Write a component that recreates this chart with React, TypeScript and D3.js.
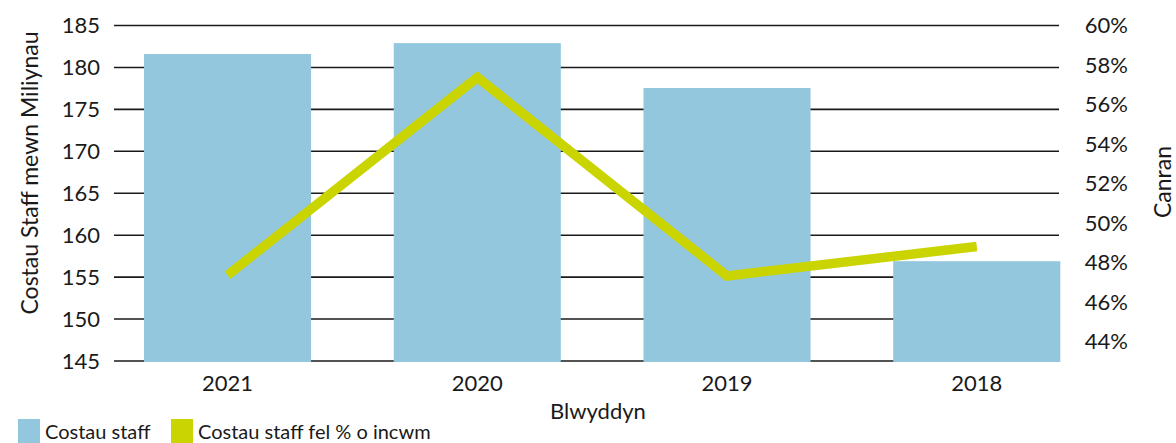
import { useEffect, useRef } from "react";
import * as d3 from "d3";

const years = ["2021", "2020", "2019", "2018"];
const staffCosts = [181.6, 182.9, 177.55, 156.9];
const staffPct = [47.35, 57.37, 47.31, 48.8];
const leftTicks = [145, 150, 155, 160, 165, 170, 175, 180, 185];
const rightTicks = [44, 46, 48, 50, 52, 54, 56, 58, 60];

const BLUE = "#93C7DD";
const GREEN = "#CAD400";
const FONT = "Lato, 'Open Sans', sans-serif";

export default function App() {
    const svgRef = useRef<SVGSVGElement>(null);
    const width = 1176;
    const height = 443;

    useEffect(() => {
        const svg = d3.select(svgRef.current);
        svg.selectAll("*").remove();

        const top = 25.5;
        const bottom = 361;
        const gridLeft = 114;
        const gridRight = 1059;

        const yLeft = d3.scaleLinear().domain([145, 185]).range([bottom, top]);
        const yRight = d3.scaleLinear().domain([43, 60]).range([bottom, top]);

        const x = d3
            .scaleBand()
            .domain(years)
            .range([144, 1060.3])
            .paddingInner(0.331)
            .paddingOuter(0);

        // gridlines
        svg.append("g")
            .selectAll("line")
            .data(leftTicks)
            .enter()
            .append("line")
            .attr("x1", gridLeft)
            .attr("x2", gridRight)
            .attr("y1", (d) => yLeft(d))
            .attr("y2", (d) => yLeft(d))
            .attr("stroke", "#1a1a1a")
            .attr("stroke-width", 1.6);

        // bars
        svg.append("g")
            .selectAll("rect")
            .data(years)
            .enter()
            .append("rect")
            .attr("x", (d) => x(d)!)
            .attr("y", (d, i) => yLeft(staffCosts[i]))
            .attr("width", x.bandwidth())
            .attr("height", (d, i) => bottom + 1 - yLeft(staffCosts[i]))
            .attr("fill", BLUE);

        // line
        const line = d3
            .line<number>()
            .x((d, i) => x(years[i])! + x.bandwidth() / 2)
            .y((d) => yRight(d));

        svg.append("path")
            .datum(staffPct)
            .attr("d", line)
            .attr("fill", "none")
            .attr("stroke", GREEN)
            .attr("stroke-width", 9.5)
            .attr("stroke-linejoin", "miter");

        // left tick labels
        svg.append("g")
            .selectAll("text")
            .data(leftTicks)
            .enter()
            .append("text")
            .attr("x", 100)
            .attr("y", (d) => yLeft(d))
            .attr("dy", "0.36em")
            .attr("text-anchor", "end")
            .style("font-family", FONT)
            .style("font-size", "22px")
            .attr("fill", "#1a1a1a")
            .text((d) => d);

        // right tick labels
        svg.append("g")
            .selectAll("text")
            .data(rightTicks)
            .enter()
            .append("text")
            .attr("x", 1128)
            .attr("y", (d) => yRight(d))
            .attr("dy", "0.36em")
            .attr("text-anchor", "end")
            .style("font-family", FONT)
            .style("font-size", "22px")
            .attr("fill", "#1a1a1a")
            .text((d) => d + "%");

        // x tick labels
        svg.append("g")
            .selectAll("text")
            .data(years)
            .enter()
            .append("text")
            .attr("x", (d) => x(d)! + x.bandwidth() / 2)
            .attr("y", 391)
            .attr("text-anchor", "middle")
            .style("font-family", FONT)
            .style("font-size", "22px")
            .attr("fill", "#1a1a1a")
            .text((d) => d);

        // axis titles
        svg.append("text")
            .attr("transform", `translate(38,173) rotate(-90)`)
            .attr("text-anchor", "middle")
            .style("font-family", FONT)
            .style("font-size", "23px")
            .attr("fill", "#1a1a1a")
            .text("Costau Staff mewn Miliynau");

        svg.append("text")
            .attr("transform", `translate(1171,182) rotate(-90)`)
            .attr("text-anchor", "middle")
            .style("font-family", FONT)
            .style("font-size", "23px")
            .attr("fill", "#1a1a1a")
            .text("Canran");

        svg.append("text")
            .attr("x", 598)
            .attr("y", 419)
            .attr("text-anchor", "middle")
            .style("font-family", FONT)
            .style("font-size", "22px")
            .attr("fill", "#1a1a1a")
            .text("Blwyddyn");

        // legend
        const legend = [
            { label: "Costau staff", color: BLUE, x: 18 },
            { label: "Costau staff fel % o incwm", color: GREEN, x: 171 },
        ];
        const lg = svg.append("g");
        legend.forEach((l) => {
            lg.append("rect")
                .attr("x", l.x)
                .attr("y", 419)
                .attr("width", 22)
                .attr("height", 24)
                .attr("fill", l.color);
            lg.append("text")
                .attr("x", l.x + 27)
                .attr("y", 439)
                .style("font-family", FONT)
                .style("font-size", "20px")
                .attr("fill", "#1a1a1a")
                .text(l.label);
        });
    }, []);

    return (
        <svg
            ref={svgRef}
            width={width}
            height={height}
            style={{ position: "absolute", left: 0, top: 0, background: "white" }}
        ></svg>
    );
}
